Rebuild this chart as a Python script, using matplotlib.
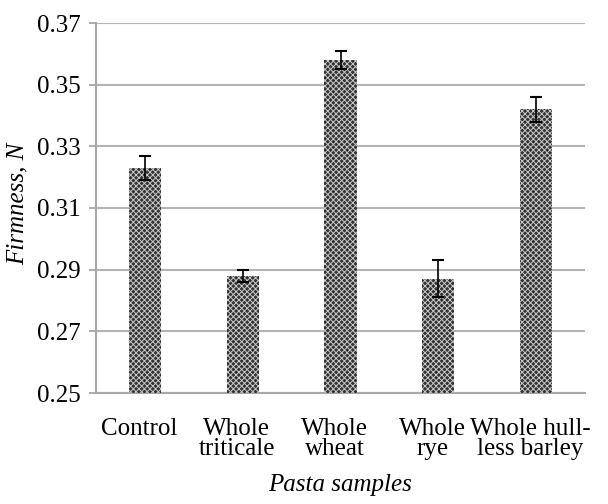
import matplotlib

matplotlib.use("Agg")
import numpy as np
from matplotlib import pyplot as plt

samples = ["Control", "Whole\ntriticale", "Whole\nwheat", "Whole\nrye", "Whole hull-\nless barley"]
firmness = [0.323, 0.288, 0.358, 0.287, 0.342]
errors = [0.004, 0.002, 0.003, 0.006, 0.004]
yticks = [0.25, 0.27, 0.29, 0.31, 0.33, 0.35, 0.37]

plt.rcParams["font.family"] = ["Liberation Serif", "DejaVu Serif"]
plt.rcParams["hatch.color"] = "#c8c8c8"
plt.rcParams["hatch.linewidth"] = 0.7

fig = plt.figure(figsize=(6.08, 5.04), dpi=100)
ax = fig.add_axes([96 / 608, 1 - 393 / 504, 489 / 608, 370 / 504])

x = np.arange(len(samples))
ax.bar(x, firmness, width=0.33, color="#333333", hatch="xxxxxx", edgecolor="#c8c8c8",
       linewidth=0, zorder=3)
ax.errorbar(x, firmness, yerr=errors, fmt="none", ecolor="black", elinewidth=1.2,
            capsize=4, capthick=1.5, zorder=4)

ax.set_xlim(-0.5, len(samples) - 0.5)
ax.set_ylim(0.25, 0.37)
ax.set_yticks(yticks)
ax.set_yticklabels([f"{v:.2f}" for v in yticks], fontsize=18)
ax.set_xticks(x - 0.06)
ax.set_xticklabels(samples, fontsize=18, linespacing=0.9)
ax.tick_params(axis="x", length=0, pad=18)
ax.tick_params(axis="y", length=5, color="#a0a0a0", width=1.2, pad=6)
ax.yaxis.grid(True, color="#b4b4b4", linewidth=1.5, zorder=0)
for s in ["top", "right"]:
    ax.spines[s].set_visible(False)
for s in ["left", "bottom"]:
    ax.spines[s].set_color("#a8a8a8")
    ax.spines[s].set_linewidth(1.5)

ax.set_ylabel("Firmness, N", fontsize=18, style="italic")
ax.yaxis.set_label_coords(-0.137, 0.51)
ax.set_xlabel("Pasta samples", fontsize=18, style="italic", labelpad=10)

fig.savefig("out.png", dpi=100)
plt.close(fig)
